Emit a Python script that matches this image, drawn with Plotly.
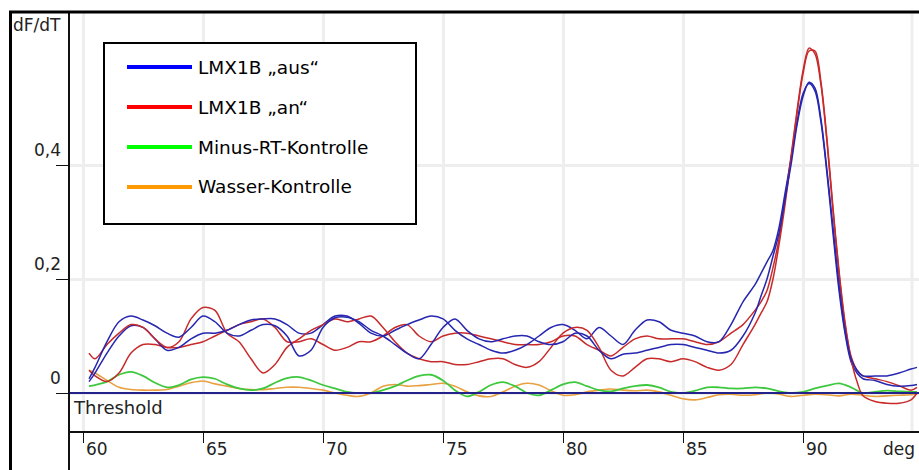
import plotly.graph_objects as go

# ---------------- data ----------------
temps_main = [60.25, 60.5, 61.0, 61.5, 62.0, 62.5, 63.0, 63.5, 64.0, 64.5, 65.0, 65.5,
              66.0, 66.5, 67.0, 67.5, 68.0, 68.5, 69.0, 69.5, 70.0, 70.5, 71.0, 71.5,
              72.0, 72.5, 73.0, 73.5, 74.0, 74.5, 75.0, 75.5, 76.0, 76.5, 77.0, 77.5,
              78.0, 78.5, 79.0, 79.5, 80.0, 80.5, 81.0, 81.5, 82.0, 82.5, 83.0, 83.5,
              84.0, 84.5, 85.0, 85.5, 86.0, 86.5, 87.0, 87.5, 88.0,
              88.25, 88.5, 88.75, 89.0, 89.25, 89.5, 89.75, 90.0, 90.25, 90.5, 90.75,
              91.0, 91.25, 91.5, 91.75, 92.0, 92.25, 92.5,
              93.0, 93.5, 94.0, 94.5, 94.75]

aus_1 = [0.025, 0.045, 0.09, 0.125, 0.135, 0.128, 0.118, 0.105, 0.098, 0.115, 0.135, 0.125,
         0.105, 0.10, 0.11, 0.12, 0.118, 0.10, 0.065, 0.075, 0.115, 0.132, 0.133, 0.125,
         0.11, 0.10, 0.085, 0.07, 0.06, 0.085, 0.115, 0.13, 0.11, 0.095, 0.09, 0.095,
         0.10, 0.10, 0.09, 0.085, 0.09, 0.105, 0.10, 0.075, 0.06, 0.068, 0.07, 0.075,
         0.08, 0.085, 0.085, 0.08, 0.075, 0.07, 0.075, 0.10, 0.14,
         0.17, 0.20, 0.24, 0.28, 0.34, 0.40, 0.47, 0.52, 0.545, 0.535, 0.48,
         0.39, 0.29, 0.19, 0.11, 0.06, 0.04, 0.03,
         0.03, 0.03, 0.035, 0.042, 0.045]

aus_2 = [0.02, 0.035, 0.07, 0.10, 0.118, 0.115, 0.095, 0.075, 0.08, 0.095, 0.105, 0.105,
         0.11, 0.12, 0.128, 0.13, 0.13, 0.12, 0.105, 0.105, 0.12, 0.135, 0.135, 0.122,
         0.105, 0.10, 0.11, 0.12, 0.128, 0.135, 0.13, 0.11, 0.095, 0.085, 0.075, 0.07,
         0.075, 0.085, 0.10, 0.115, 0.12, 0.11, 0.095, 0.115, 0.10, 0.085, 0.11, 0.128,
         0.125, 0.11, 0.105, 0.10, 0.09, 0.09, 0.12, 0.16, 0.19,
         0.21, 0.23, 0.25, 0.29, 0.35, 0.41, 0.475, 0.525, 0.543, 0.53, 0.475,
         0.385, 0.28, 0.18, 0.105, 0.055, 0.035, 0.025,
         0.022, 0.015, 0.012, 0.013, 0.015]

an_1 = [0.07, 0.06, 0.085, 0.105, 0.12, 0.115, 0.095, 0.08, 0.09, 0.13, 0.15, 0.145,
        0.105, 0.09, 0.06, 0.035, 0.05, 0.08, 0.095, 0.11, 0.12, 0.13, 0.125, 0.13,
        0.135, 0.115, 0.09, 0.07, 0.06, 0.055, 0.055, 0.05, 0.05, 0.055, 0.06, 0.06,
        0.05, 0.045, 0.055, 0.08, 0.105, 0.115, 0.11, 0.08, 0.04, 0.03, 0.045, 0.06,
        0.06, 0.055, 0.06, 0.055, 0.045, 0.04, 0.05, 0.085, 0.12,
        0.14, 0.16, 0.20, 0.26, 0.33, 0.41, 0.49, 0.56, 0.60, 0.60, 0.545,
        0.445, 0.325, 0.215, 0.125, 0.06, 0.02, -0.005,
        -0.015, -0.018, -0.018, -0.012, 0.0]

an_2 = [0.04, 0.03, 0.02, 0.035, 0.07, 0.085, 0.085, 0.08, 0.08, 0.085, 0.09, 0.10,
        0.11, 0.12, 0.125, 0.13, 0.115, 0.09, 0.09, 0.095, 0.085, 0.075, 0.08, 0.09,
        0.09, 0.10, 0.115, 0.12, 0.10, 0.09, 0.10, 0.105, 0.105, 0.10, 0.095, 0.09,
        0.085, 0.085, 0.085, 0.09, 0.10, 0.10, 0.085, 0.075, 0.065, 0.08, 0.095, 0.10,
        0.095, 0.095, 0.095, 0.09, 0.085, 0.09, 0.105, 0.12, 0.145,
        0.16, 0.18, 0.22, 0.27, 0.34, 0.415, 0.495, 0.565, 0.605, 0.595, 0.54,
        0.44, 0.32, 0.21, 0.12, 0.065, 0.04, 0.03,
        0.025, 0.02, 0.013, 0.005, 0.01]

temps_ctrl = [60.25, 60.5, 61.0, 61.5, 62.0, 62.5, 63.0, 63.5, 64.0, 64.5, 65.0, 65.5,
              66.0, 66.5, 67.0, 67.5, 68.0, 68.5, 69.0, 69.5, 70.0, 70.5, 71.0, 71.5,
              72.0, 72.5, 73.0, 73.5, 74.0, 74.5, 75.0, 75.5, 76.0, 76.5, 77.0, 77.5,
              78.0, 78.5, 79.0, 79.5, 80.0, 80.5, 81.0, 81.5, 82.0, 82.5, 83.0, 83.5,
              84.0, 84.5, 85.0, 85.5, 86.0, 86.5, 87.0, 87.5, 88.0, 88.5, 89.0, 89.5,
              90.0, 90.5, 91.0, 91.5, 92.0, 92.5, 93.0, 93.5, 94.0, 94.5, 94.75]

minus_rt = [0.012, 0.014, 0.02, 0.032, 0.037, 0.03, 0.018, 0.01, 0.014, 0.024, 0.028, 0.025,
            0.015, 0.008, 0.005, 0.008, 0.018, 0.026, 0.028, 0.022, 0.014, 0.008, 0.002, 0.0,
            0.0, 0.005, 0.012, 0.022, 0.03, 0.032, 0.022, 0.005, -0.006, 0.002, 0.014, 0.019,
            0.012, 0.0, -0.004, 0.005, 0.015, 0.019, 0.012, 0.005, 0.003, 0.008, 0.012, 0.014,
            0.01, 0.002, 0.0, 0.004, 0.01, 0.01, 0.008, 0.008, 0.01, 0.008, 0.003, 0.0,
            0.002, 0.008, 0.013, 0.017, 0.01, 0.0, 0.002, 0.004, 0.003, 0.002, 0.002]

wasser = [0.04, 0.035, 0.022, 0.01, 0.006, 0.005, 0.005, 0.006, 0.012, 0.018, 0.021, 0.016,
          0.012, 0.008, 0.006, 0.006, 0.008, 0.01, 0.01, 0.008, 0.005, 0.0, -0.004, -0.006,
          0.0, 0.012, 0.015, 0.012, 0.013, 0.015, 0.017, 0.012, 0.002, -0.005, -0.006, 0.002,
          0.012, 0.017, 0.014, 0.004, -0.004, -0.003, 0.002, 0.005, 0.007, 0.005, 0.004, 0.005,
          0.002, -0.004, -0.01, -0.012, -0.008, -0.003, -0.002, -0.004, -0.003, 0.0, -0.002, -0.006,
          -0.004, -0.002, -0.003, -0.005, -0.002, -0.004, -0.006, -0.005, -0.004, -0.003, -0.002]

threshold = 0.0
x_ticks = [60, 65, 70, 75, 80, 85, 90]
x_tick_labels = ["60", "65", "70", "75", "80", "85", "90"]
y_ticks = [0, 0.2, 0.4]
y_tick_labels = ["0", "0,2", "0,4"]
legend_names = ["LMX1B \u201eaus\u201c", "LMX1B \u201ean\u201c", "Minus-RT-Kontrolle", "Wasser-Kontrolle"]
legend_colors = ["#0000ff", "#ff0000", "#00ff00", "#ff9900"]

# ---------------- figure ----------------
W, H = 919, 470
ML, MR, MT, MB = 69, 0, 13, 38
pw, ph = W - ML - MR, H - MT - MB

def px(xp):
    return (xp - ML) / pw

def py(yp):
    return (H - MB - yp) / ph

BLUE = "#2626b0"
RED = "#c82a2a"
GREEN = "#3ec83e"
ORANGE = "#e8a040"
GRID = "#eeeeee"
FONT = "DejaVu Sans"

fig = go.Figure()
line_kw = dict(shape="spline", smoothing=0.9)
fig.add_trace(go.Scatter(x=temps_ctrl, y=wasser, mode="lines",
                         line=dict(color=ORANGE, width=1.6, **line_kw), showlegend=False))
fig.add_trace(go.Scatter(x=temps_ctrl, y=minus_rt, mode="lines",
                         line=dict(color=GREEN, width=1.8, **line_kw), showlegend=False))
for ys, col in [(an_2, RED), (aus_2, BLUE), (an_1, RED), (aus_1, BLUE)]:
    fig.add_trace(go.Scatter(x=temps_main, y=ys, mode="lines",
                             line=dict(color=col, width=1.5, **line_kw), showlegend=False))

shapes = []
# faint extra vertical grid line near right edge
shapes.append(dict(type="line", xref="paper", yref="paper", x0=px(912), x1=px(912), y0=0, y1=1,
                   line=dict(color=GRID, width=3), layer="below"))
# threshold line
shapes.append(dict(type="line", xref="paper", yref="y", x0=0, x1=1, y0=threshold, y1=threshold,
                   line=dict(color="#22228a", width=2), layer="above"))
# axis lines
shapes.append(dict(type="line", xref="paper", yref="paper", x0=0, x1=0, y0=py(470), y1=py(13),
                   line=dict(color="#111", width=2), layer="above"))
shapes.append(dict(type="line", xref="paper", yref="paper", x0=0, x1=1, y0=0, y1=0,
                   line=dict(color="#111", width=2), layer="above"))
# outer frame
shapes.append(dict(type="line", xref="paper", yref="paper", x0=px(10.5), x1=px(10.5), y0=py(470), y1=py(11),
                   line=dict(color="#000", width=3), layer="above"))
shapes.append(dict(type="line", xref="paper", yref="paper", x0=px(9), x1=1.01, y0=py(12), y1=py(12),
                   line=dict(color="#000", width=3), layer="above"))
# legend box
shapes.append(dict(type="rect", xref="paper", yref="paper", x0=px(104), x1=px(416), y0=py(224), y1=py(43),
                   line=dict(color="#000", width=2), fillcolor="white", layer="above"))

annotations = []
legend_rows = [67, 107, 147, 187]
for name, col, yrow in zip(legend_names, legend_colors, legend_rows):
    shapes.append(dict(type="line", xref="paper", yref="paper", x0=px(127), x1=px(192),
                       y0=py(yrow), y1=py(yrow), line=dict(color=col, width=4), layer="above"))
    annotations.append(dict(text=name, xref="paper", yref="paper", x=px(196), y=py(yrow),
                            xanchor="left", yanchor="middle", showarrow=False,
                            font=dict(family=FONT, size=18.5, color="#000")))

# tick labels
for v, t in zip(x_ticks, x_tick_labels):
    annotations.append(dict(text=t, xref="x", yref="paper", x=v, y=py(449), xshift=1,
                            xanchor="left", yanchor="middle", showarrow=False,
                            font=dict(family=FONT, size=17, color="#222")))
for v, t in zip(y_ticks, y_tick_labels):
    annotations.append(dict(text=t, xref="paper", yref="y", x=px(63), y=v, yshift=3,
                            xanchor="right", yanchor="bottom", showarrow=False,
                            font=dict(family=FONT, size=17, color="#222")))
annotations.append(dict(text="deg", xref="paper", yref="paper", x=px(917), y=py(449),
                        xanchor="right", yanchor="middle", showarrow=False,
                        font=dict(family=FONT, size=17, color="#222")))
annotations.append(dict(text="dF/dT", xref="paper", yref="paper", x=px(11), y=py(25),
                        xanchor="left", yanchor="middle", showarrow=False,
                        font=dict(family=FONT, size=17, color="#222")))
annotations.append(dict(text="Threshold", xref="paper", yref="y", x=px(71), y=threshold, yshift=-14,
                        xanchor="left", yanchor="middle", showarrow=False,
                        font=dict(family=FONT, size=18, color="#222")))

fig.update_layout(
    width=W, height=H,
    margin=dict(l=ML, r=MR, t=MT, b=MB, pad=0),
    paper_bgcolor="white", plot_bgcolor="white",
    showlegend=False,
    shapes=shapes, annotations=annotations,
    xaxis=dict(range=[60 - 14 / 24, 60 + 836 / 24], tickvals=x_ticks, showticklabels=False,
               ticks="outside", ticklen=10, tickwidth=1.2, tickcolor="#111",
               showgrid=True, gridcolor=GRID, gridwidth=3, zeroline=False, showline=False),
    yaxis=dict(range=[-39 / 570, 380 / 570], tickvals=y_ticks, showticklabels=False,
               ticks="outside", ticklen=12, tickwidth=1.2, tickcolor="#111",
               showgrid=True, gridcolor=GRID, gridwidth=3, zeroline=False, showline=False),
)

fig.write_html("out.html")
